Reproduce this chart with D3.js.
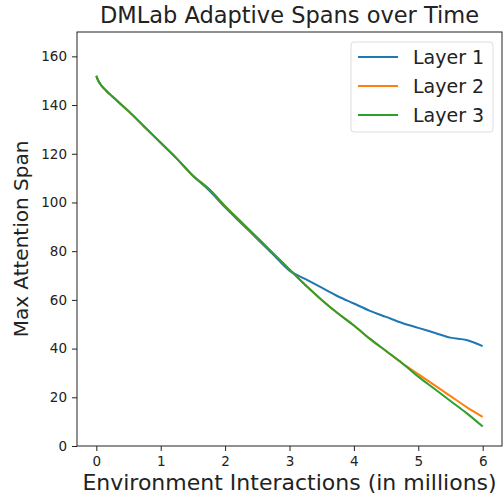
<!DOCTYPE html>
<html>
<head>
<meta charset="utf-8">
<script src="https://cdn.jsdelivr.net/npm/d3@7"></script>
<style>
  body { margin: 0; background: #fff; }
  svg { display: block; font-family: "DejaVu Sans", sans-serif; }
</style>
</head>
<body>
<div id="chart"></div>
<script>
// environment interactions (millions)
const steps = [0, 0.03, 0.08, 0.15, 0.25, 0.5, 0.75, 1, 1.25, 1.5, 1.75, 2, 2.25, 2.5, 2.75,
               3, 3.25, 3.5, 3.75, 4, 4.25, 4.5, 4.75, 5, 5.25, 5.5, 5.75, 6];

const layer1 = [152, 150, 148, 146, 143.5, 137.5, 131, 124.5, 118, 111, 105, 98, 91.5, 85, 78.5,
                72, 68.5, 65, 61.5, 58.5, 55.5, 53, 50.5, 48.5, 46.5, 44.5, 43.5, 41];
const layer2 = [152, 150, 148, 146, 143.5, 137.5, 131, 124.5, 118, 111, 105.5, 98.5, 92, 85.5, 79,
                72.5, 66, 60, 54.5, 49.5, 44, 39, 34, 29.5, 25, 20.5, 16, 12];
const layer3 = [152, 150, 148, 146, 143.5, 137.5, 131, 124.5, 118, 111, 105.5, 98.5, 92, 85.5, 79,
                72.5, 66, 60, 54.5, 49.5, 44, 39, 34, 28.5, 23.5, 18.5, 13.5, 8];

const seriesNames = ["Layer 1", "Layer 2", "Layer 3"];
const seriesColors = ["#1f77b4", "#ff7f0e", "#2ca02c"];
const xTicks = [0, 1, 2, 3, 4, 5, 6];
const yTicks = [0, 20, 40, 60, 80, 100, 120, 140, 160];

const W = 503, H = 497;
const margin = { top: 32, right: 1, bottom: 51, left: 77 };

const svg = d3.select("#chart").append("svg")
    .attr("width", W)
    .attr("height", H);

const x = d3.scaleLinear().domain([-0.3, 6.3]).range([margin.left, W - margin.right]);
const y = d3.scaleLinear().domain([0, 170]).range([H - margin.bottom, margin.top]);

// axes
const xAxis = svg.append("g")
    .attr("transform", `translate(0,${H - margin.bottom})`)
    .call(d3.axisBottom(x).tickValues(xTicks).tickFormat(d3.format("d")).tickSize(5).tickPadding(5));
const yAxis = svg.append("g")
    .attr("transform", `translate(${margin.left},0)`)
    .call(d3.axisLeft(y).tickValues(yTicks).tickFormat(d3.format("d")).tickSize(5).tickPadding(5));

[xAxis, yAxis].forEach(ax => {
    ax.select(".domain").remove();
    ax.selectAll("text").attr("font-size", 13.5).attr("fill", "#222").attr("font-family", "DejaVu Sans, sans-serif");
    ax.selectAll("line").attr("stroke", "#222");
});

// frame
svg.append("rect")
    .attr("x", margin.left)
    .attr("y", margin.top)
    .attr("width", W - margin.right - margin.left)
    .attr("height", H - margin.bottom - margin.top)
    .attr("fill", "none")
    .attr("stroke", "#222")
    .attr("stroke-width", 1);

// lines
const line = d3.line()
    .x(d => x(d[0]))
    .y(d => y(d[1]))
    .curve(d3.curveMonotoneX);

const allSeries = [layer1, layer2, layer3];
allSeries.forEach((vals, i) => {
    svg.append("path")
        .datum(steps.map((s, j) => [s, vals[j]]))
        .attr("fill", "none")
        .attr("stroke", seriesColors[i])
        .attr("stroke-width", 2)
        .attr("d", line);
});

// title and labels
svg.append("text")
    .attr("x", (margin.left + W - margin.right) / 2)
    .attr("y", 23)
    .attr("text-anchor", "middle")
    .attr("font-size", 22.5)
    .attr("fill", "#222")
    .text("DMLab Adaptive Spans over Time");

svg.append("text")
    .attr("x", (margin.left + W - margin.right) / 2)
    .attr("y", 490)
    .attr("text-anchor", "middle")
    .attr("font-size", 22)
    .attr("fill", "#222")
    .text("Environment Interactions (in millions)");

svg.append("text")
    .attr("transform", `translate(28,${(margin.top + H - margin.bottom) / 2}) rotate(-90)`)
    .attr("text-anchor", "middle")
    .attr("font-size", 20)
    .attr("fill", "#222")
    .text("Max Attention Span");

// legend
const legend = svg.append("g").attr("transform", "translate(351,42)");
legend.append("rect")
    .attr("width", 142)
    .attr("height", 90)
    .attr("rx", 3)
    .attr("fill", "#fff")
    .attr("fill-opacity", 0.8)
    .attr("stroke", "#ddd");

seriesNames.forEach((name, i) => {
    const g = legend.append("g").attr("transform", `translate(0,${15 + i * 29})`);
    g.append("line")
        .attr("x1", 7).attr("x2", 47)
        .attr("stroke", seriesColors[i])
        .attr("stroke-width", 2);
    g.append("text")
        .attr("x", 62)
        .attr("y", 7)
        .attr("font-size", 19)
        .attr("fill", "#222")
        .text(name);
});
</script>
</body>
</html>
